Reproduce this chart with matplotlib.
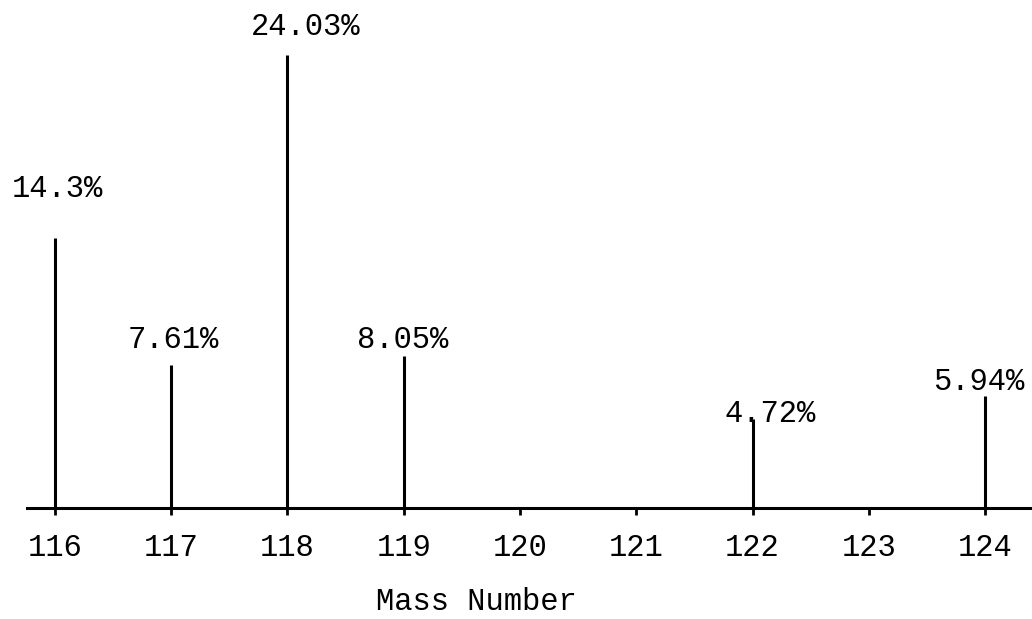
import matplotlib.pyplot as plt

# === Data ===
mass_numbers = [116, 117, 118, 119, 120, 121, 122, 123, 124]
isotopes = [116, 117, 118, 119, 122, 124]
abundance = [14.3, 7.61, 24.03, 8.05, 4.72, 5.94]
labels = ["14.3%", "7.61%", "24.03%", "8.05%", "4.72%", "5.94%"]
xlabel = "Mass Number"

# label nudges in pixels (layout only)
label_dx = [2, 2, 18, -1, 18, -6]
label_dy = [41, 17, 20, 8, -3, 6]

plt.rcParams['font.family'] = ['Liberation Mono', 'DejaVu Sans Mono']
FS = 22

fig = plt.figure(figsize=(10.32, 6.19), dpi=100)
ax = fig.add_axes([0, 0, 1, 1])

# === Axis scale (matches the page) ===
ax.set_xlim(115.527, 124.404)
ax.set_ylim(-5.89, 26.95)

# === Stems ===
ax.vlines(isotopes, 0, abundance, colors='black', linewidth=2.2)

for x, y, s, dx, dy in zip(isotopes, abundance, labels, label_dx, label_dy):
    ax.annotate(s, (x, y), xytext=(dx, dy), textcoords='offset pixels',
                ha='center', va='baseline', fontsize=FS)

# === Baseline and ticks ===
for side in ['top', 'left', 'right']:
    ax.spines[side].set_visible(False)
ax.spines['bottom'].set_position(('data', 0))
ax.spines['bottom'].set_bounds(115.76, 124.40)
ax.spines['bottom'].set_linewidth(2.2)
ax.set_yticks([])
ax.set_xticks(mass_numbers)
ax.set_xticklabels([str(m) for m in mass_numbers])
ax.tick_params(axis='x', direction='out', length=5, width=2,
               pad=13, labelsize=FS)

# keep descender room inside the picture
fig.text(476 / 1032, 1 - 610 / 619, xlabel, ha='center', va='baseline',
         fontsize=FS)

fig.savefig("out.png", dpi=100)
